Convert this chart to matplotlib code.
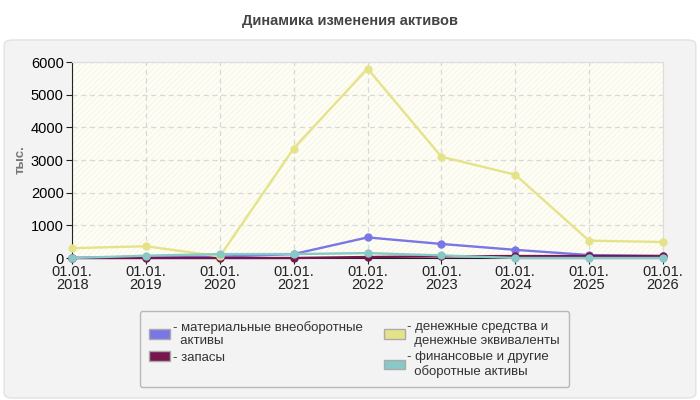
import matplotlib
matplotlib.use("Agg")
import matplotlib.pyplot as plt
from matplotlib.patches import FancyBboxPatch, Patch

plt.rcParams["font.family"] = ["Liberation Sans", "DejaVu Sans"]
plt.rcParams["hatch.linewidth"] = 0.6

years = [2018, 2019, 2020, 2021, 2022, 2023, 2024, 2025, 2026]
tick_labels = ["01.01.\n%d" % y for y in years]

# values, thousand
material = [0, 40, 40, 120, 630, 430, 250, 90, 60]
zapasy = [0, 0, 0, 0, 30, 50, 60, 60, 60]
money = [300, 360, 50, 3350, 5800, 3100, 2550, 530, 490]
finance = [0, 70, 120, 120, 150, 80, 0, 0, 0]

series = [
    ("- материальные внеоборотные\n  активы", material, "#7b76e6"),
    ("- запасы", zapasy, "#76174e"),
    ("- денежные средства и\n  денежные эквиваленты", money, "#e5e38a"),
    ("- финансовые и другие\n  оборотные активы", finance, "#86c9c6"),
]

fig = plt.figure(figsize=(7, 4), dpi=100, facecolor="white")
panel = FancyBboxPatch((0.006, 0.005), 0.988, 0.895, boxstyle="round,pad=0,rounding_size=0.012",
                       transform=fig.transFigure, facecolor="#f3f3f3", edgecolor="#e2e2e2", lw=1,
                       zorder=-10)
fig.patches.append(panel)
fig.text(0.5, 0.948, "Динамика изменения активов", ha="center", va="center",
         fontsize=10.5, fontweight="bold", color="#444444")

ax = fig.add_axes([0.103, 0.355, 0.844, 0.49])
ax.set_facecolor("#fefef4")
ax.patch.set_hatch("//////")
ax.patch.set_edgecolor("#f3f3e8")
ax.patch.set_linewidth(0)

for label, vals, color in series:
    ax.plot(years, vals, color=color, lw=1.7, marker="o", ms=5, zorder=3, clip_on=False)

ax.set_xlim(2018, 2026)
ax.set_ylim(0, 6000)
ax.set_xticks(years)
ax.set_xticklabels(tick_labels, fontsize=10.5, color="#222222", linespacing=0.95)
ax.set_yticks(range(0, 6001, 1000))
ax.tick_params(axis="y", labelsize=10.5, length=4, color="#222222", pad=2)
ax.tick_params(axis="x", length=4, color="#222222", pad=1)
ax.grid(True, ls=(0, (4, 3)), color="#d8d8d8", lw=0.9)
ax.set_axisbelow(True)
for s in ["top", "right"]:
    ax.spines[s].set_color("#dddddd")
ax.spines["left"].set_color("#222222")
ax.spines["bottom"].set_color("#222222")
ax.set_ylabel("тыс.", fontsize=9.5, fontweight="bold", color="#777777")
ax.yaxis.set_label_coords(-0.077, 0.5)

handles = [Patch(facecolor=c, edgecolor="#aaaaaa", label=l) for l, v, c in series]
leg = fig.legend(handles=handles, ncol=2, loc="upper left", bbox_to_anchor=(0.19, 0.238),
                 fontsize=9.5, frameon=True, fancybox=True, handlelength=1.6, handleheight=0.7,
                 handletextpad=0.2, columnspacing=1.6, labelspacing=0.3, borderpad=0.7)
leg.get_frame().set_edgecolor("#aaaaaa")
leg.get_frame().set_facecolor("#f3f3f3")
for t in leg.get_texts():
    t.set_color("#333333")

fig.savefig("out.png", dpi=100, facecolor="white")
